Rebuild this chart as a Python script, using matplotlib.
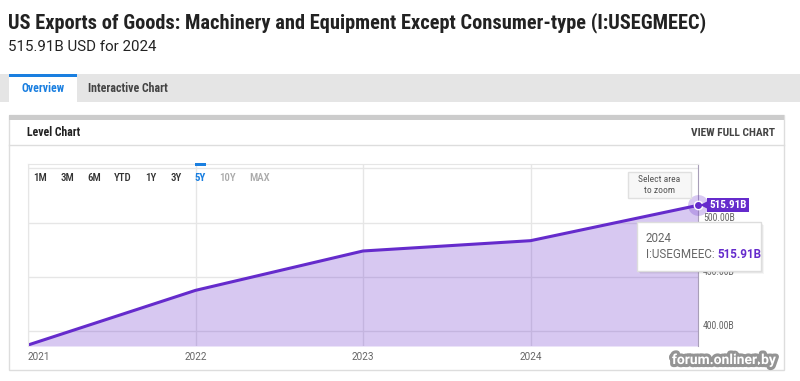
import matplotlib
matplotlib.use('Agg')
import matplotlib.pyplot as plt
from matplotlib import font_manager
from matplotlib.patches import Rectangle
from matplotlib.transforms import offset_copy
import matplotlib.patheffects as pe

# ---------------- data ----------------
years = ['2021', '2022', '2023', '2024']
values = [387.1, 437.5, 473.8, 483.3, 515.91]
yticks = [400, 450, 500, 550]
ytick_labels = ['400.00B', '450.00B', '500.00B', '']
ranges = ['1M', '3M', '6M', 'YTD', '1Y', '3Y', '5Y', '10Y', 'MAX']
active_range = '5Y'
disabled_ranges = ['10Y', 'MAX']
series_id = 'I:USEGMEEC'
tooltip_period = '2024'
title = 'US Exports of Goods: Machinery and Equipment Except Consumer-type (I:USEGMEEC)'
subtitle = '515.91B USD for 2024'

# ---------------- fonts ----------------
avail = {f.name for f in font_manager.fontManager.ttflist}
def pick(*names):
    for n in names:
        if n in avail:
            return n
    return 'DejaVu Sans'
COND = pick('Roboto Condensed', 'Liberation Sans Narrow', 'Roboto')
ROB = pick('Roboto', 'Liberation Sans')

PURPLE = '#652bcc'
BLUE = '#1a7fe0'

W, H = 800, 381
fig = plt.figure(figsize=(W / 100, H / 100), dpi=100)
fig.patch.set_facecolor('white')

# background overlay in pixel coords
bg = fig.add_axes([0, 0, 1, 1], zorder=0)
bg.set_xlim(0, W); bg.set_ylim(H, 0); bg.axis('off')

bg.text(8, 23, title, fontsize=14.7, fontweight='bold', family=COND, color='#222222', va='center', ha='left')
bg.text(8, 47, subtitle, fontsize=10.8, family=ROB, color='#222222', va='center', ha='left')

# tab bar
bg.add_patch(Rectangle((0, 74), W, 28, fc='#e5e5e5', ec='none'))
bg.add_patch(Rectangle((9, 74), 68, 28, fc='white', ec='none'))
bg.add_patch(Rectangle((9, 74), 68, 3, fc=BLUE, ec='none'))
bg.text(43, 89, 'Overview', fontsize=8.4, fontweight='bold', family=COND, color=BLUE, va='center', ha='center')
bg.text(88, 89, 'Interactive Chart', fontsize=8.6, fontweight='bold', family=COND, color='#444444', va='center', ha='left')

# panel
bg.add_patch(Rectangle((9, 115), 775, 255, fc='white', ec='#dddddd', lw=1))
bg.add_patch(Rectangle((9, 115), 775, 5, fc='#cccccc', ec='none'))
bg.plot([9, 784], [145, 145], color='#dddddd', lw=1)
bg.text(27, 133, 'Level Chart', fontsize=8.5, fontweight='bold', family=COND, color='#222222', va='center', ha='left')
bg.text(775, 133, 'VIEW FULL CHART', fontsize=8.2, fontweight='bold', family=COND, color='#444444', va='center', ha='right')

# ---------------- chart ----------------
ax = fig.add_axes([28 / W, (H - 346) / H, 670 / W, 182 / H], zorder=1)
ax.set_facecolor('white')
xs = list(range(len(values)))
ax.set_xlim(xs[0], xs[-1])
ax.set_ylim(386.2, 554)
ax.set_axisbelow(True)
ax.grid(True, color='#e6e6e6', lw=1)
ax.fill_between(xs, values, 386.2, color=PURPLE, alpha=0.26, lw=0, zorder=1)
ax.plot(xs, values, color=PURPLE, lw=2.2, zorder=2, solid_joinstyle='round')

for s in ['top', 'left']:
    ax.spines[s].set_color('#e6e6e6')
ax.spines['right'].set_color('#a89fb8')
ax.spines['bottom'].set_visible(False)

ax.set_yticks(yticks)
ax.set_yticklabels([])
ax.tick_params(axis='y', length=0)
ytr = offset_copy(ax.get_yaxis_transform(), fig=fig, x=5, y=5, units='dots')
for v, s in zip(yticks, ytick_labels):
    ax.text(1, v, s, transform=ytr, fontsize=7, family=COND, color='#666666', va='center', ha='left')

ax.set_xticks(xs[:len(years)])
ax.set_xticklabels(years)
ax.tick_params(axis='x', length=0, pad=4, labelsize=7.2, labelcolor='#666666')
for lab in ax.get_xticklabels():
    lab.set_family(ROB)
ax.get_xticklabels()[0].set_ha('left')

# last point marker and label
ax.plot([xs[-1]], [values[-1]], 'o', ms=15, color=PURPLE, alpha=0.25, mew=0, zorder=4, clip_on=False)
ax.plot([xs[-1]], [values[-1]], 'o', ms=6, mfc=PURPLE, mec='white', mew=1, zorder=5, clip_on=False)
tri_tr = offset_copy(ax.transData, fig=fig, x=7, y=0, units='dots')
ax.plot([xs[-1]], [values[-1]], marker='<', ms=7, color=PURPLE, mew=0, transform=tri_tr, clip_on=False, zorder=5)
ax.annotate(f'{values[-1]:.2f}B', xy=(xs[-1], values[-1]), xytext=(11, 0), textcoords='offset pixels',
            va='center', ha='left', color='white', fontweight='bold', fontsize=8, family=COND,
            bbox=dict(boxstyle='square,pad=0.18', fc=PURPLE, ec='none'), annotation_clip=False, zorder=6)

# ---------------- top overlay ----------------
top = fig.add_axes([0, 0, 1, 1], zorder=2)
top.set_facecolor('none')
top.set_xlim(0, W); top.set_ylim(H, 0); top.axis('off')

# range selector
centers = [40, 67, 94, 123, 151, 176, 200, 228, 260]
for r, cx in zip(ranges, centers):
    if r == active_range:
        col, wt = BLUE, 'bold'
        top.add_patch(Rectangle((cx - 5.5, 163), 11, 3, fc=BLUE, ec='none'))
    elif r in disabled_ranges:
        col, wt = '#aaaaaa', 'medium'
    else:
        col, wt = '#333333', 'medium'
    top.text(cx, 178, r, fontsize=7.8, family=COND, color=col, fontweight=wt, va='center', ha='center')

# select area to zoom
top.add_patch(Rectangle((628, 172), 63, 26, fc='#f7f7f7', ec='#e0e0e0', lw=1))
top.text(659.5, 185, 'Select area\nto zoom', fontsize=6.8, family=COND, color='#555555',
         va='center', ha='center', linespacing=1.15)

# tooltip
for i, a in enumerate([0.06, 0.05, 0.04]):
    top.add_patch(Rectangle((637 + 1 + i, 222 + 1 + i), 124, 49, fc='black', alpha=a, ec='none'))
top.add_patch(Rectangle((637, 222), 124, 49, fc='white', ec='#dddddd', lw=1))
top.text(646, 239, tooltip_period, fontsize=8.4, family=ROB, color='#666666', va='center', ha='left')
t1 = top.text(646, 255, f'{series_id}: ', fontsize=8.4, family=ROB, color='#666666', va='center', ha='left')
top.annotate(f'{values[-1]:.2f}B', xy=(1, 0), xycoords=t1, va='bottom', ha='left',
             fontsize=8.4, family=ROB, fontweight='bold', color=PURPLE)

# watermark
top.text(724, 360, 'forum.onliner.by', fontsize=10, fontweight='bold', family=ROB, color='white',
         va='center', ha='center',
         path_effects=[pe.withStroke(linewidth=4.5, foreground=(0.3, 0.3, 0.3, 0.6))])

fig.savefig('out.png', dpi=100, facecolor='white')
